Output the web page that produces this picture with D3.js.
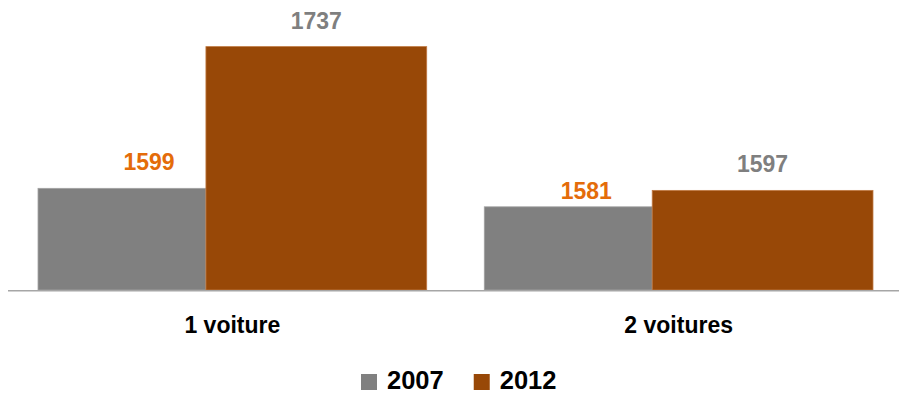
<!DOCTYPE html>
<html>
<head>
<meta charset="utf-8">
<script src="https://cdn.jsdelivr.net/npm/d3@7"></script>
<style>
  html, body { margin: 0; padding: 0; background: #ffffff; }
  svg { display: block; }
  text { font-family: "Liberation Sans", Arial, sans-serif; font-weight: bold; }
</style>
</head>
<body>
<svg id="chart" width="899" height="395"></svg>
<script>
// Households by number of cars: values for 2007 and 2012
const categories = ["1 voiture", "2 voitures"];
const years = ["2007", "2012"];
const values2007 = [1599, 1581];
const values2012 = [1737, 1597];

// Styling
const barColors = { "2007": "#808080", "2012": "#984807" };
const barEdges  = { "2007": "#a2a2a2", "2012": "#c07a45" };
const labelColors = { "2007": "#E46C0A", "2012": "#7F7F7F" };

const width = 899, height = 395;
const baseY = 290;

const svg = d3.select("#chart");

const x = d3.scaleBand()
  .domain(categories)
  .range([9, 902])
  .paddingInner(0.129)
  .paddingOuter(0.065);

// Share of each group taken by each year's bar
const share = { "2007": 0.432, "2012": 0.568 };
const sub = d3.scaleOrdinal().domain(years).range([0, share["2007"]]);

const y = d3.scaleLinear()
  .domain([1500, 1750])
  .range([baseY, baseY - 250 * 1.027]);

const rows = [];
categories.forEach((c, i) => {
  rows.push({ cat: c, year: "2007", value: values2007[i], idx: i });
  rows.push({ cat: c, year: "2012", value: values2012[i], idx: i });
});

// Hand-placed nudges for the 2007 value labels
const labelNudge = {
  "2007": [{ dx: 27, dy: 0 }, { dx: 18, dy: 10 }],
  "2012": [{ dx: 0, dy: 0 }, { dx: 0, dy: 0 }]
};

const bw = x.bandwidth();
const barX = d => x(d.cat) + sub(d.year) * bw;
const barW = d => share[d.year] * bw;

svg.append("g").selectAll("rect")
  .data(rows)
  .join("rect")
  .attr("x", barX)
  .attr("y", d => y(d.value))
  .attr("width", barW)
  .attr("height", d => baseY - y(d.value))
  .attr("fill", d => barColors[d.year])
  .attr("stroke", d => barEdges[d.year])
  .attr("stroke-width", 0.8);

// Category axis along the baseline
const axis = svg.append("g")
  .attr("transform", `translate(0,${baseY + 0.75})`)
  .call(d3.axisBottom(x).tickSize(0).tickPadding(26).tickSizeOuter(0));
axis.select(".domain")
  .attr("d", "M8,0H899")
  .attr("stroke", "#a6a6a6")
  .attr("stroke-width", 1.5);
axis.selectAll(".tick text")
  .attr("font-size", 23)
  .attr("font-family", "'Liberation Sans', Arial, sans-serif")
  .attr("font-weight", "bold")
  .attr("fill", "#000000");

// Value labels
svg.append("g").selectAll("text")
  .data(rows)
  .join("text")
  .attr("x", d => barX(d) + barW(d) / 2 + labelNudge[d.year][d.idx].dx)
  .attr("y", d => y(d.value) - 18 + labelNudge[d.year][d.idx].dy)
  .attr("text-anchor", "middle")
  .attr("font-size", 23)
  .attr("fill", d => labelColors[d.year])
  .text(d => d.value);

// Legend
const legend = svg.append("g").attr("transform", "translate(361,374)");
let lx = 0;
years.forEach(yr => {
  const item = legend.append("g").attr("transform", `translate(${lx},0)`);
  item.append("rect")
    .attr("width", 16).attr("height", 16)
    .attr("fill", barColors[yr]);
  const t = item.append("text")
    .attr("x", 26)
    .attr("y", 15)
    .attr("font-size", 25.5)
    .attr("fill", "#000000")
    .text(yr);
  lx += 26 + t.node().getComputedTextLength() + 30;
});
</script>
</body>
</html>
